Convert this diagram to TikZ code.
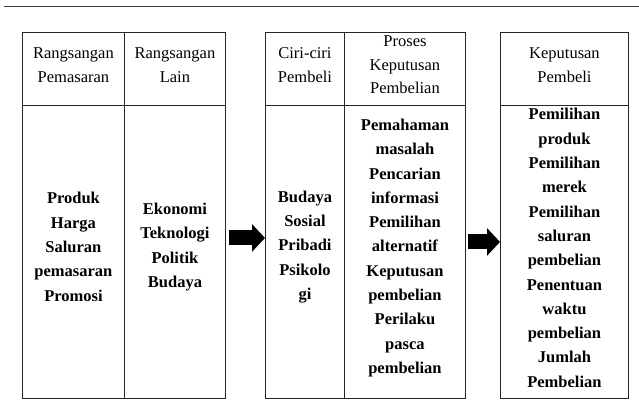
\documentclass[tikz,border=0pt]{standalone}
\usepackage{fontspec}
\setmainfont{Liberation Serif}
\usetikzlibrary{arrows.meta,calc}
\tikzset{
  cell/.style={draw=black!85, line width=0.9pt, anchor=north west, inner sep=0pt},
  headcell/.style={cell, minimum height=73pt},
  bodycell/.style={cell, minimum height=293pt},
  headtext/.style={align=center, inner sep=0pt, font=\fontsize{16.5}{23.5}\selectfont},
  bodytext/.style={align=center, inner sep=0pt, font=\fontsize{16.5}{24.3}\selectfont\bfseries},
  blockarrow/.style={line width=15pt, -{Triangle[length=13pt,width=27pt]}}
}
\begin{document}
\begin{tikzpicture}[x=1pt,y=1pt]
\useasboundingbox (0,0) rectangle (639,418);
\coordinate (tl) at (4,411);
\coordinate (tr) at (639,411);
\draw[black!75, line width=1pt] (tl) -- (tr);
% cells
\node[headcell, minimum width=102pt] (h1) at (22,386) {};
\node[headcell, minimum width=101pt] (h2) at (124,386) {};
\node[bodycell, minimum width=102pt] (b1) at (22,313) {};
\node[bodycell, minimum width=101pt] (b2) at (124,313) {};
\node[headcell, minimum width=79pt] (h3) at (265,386) {};
\node[headcell, minimum width=121pt] (h4) at (344,386) {};
\node[bodycell, minimum width=79pt] (b3) at (265,313) {};
\node[bodycell, minimum width=121pt] (b4) at (344,313) {};
\node[headcell, minimum width=128pt] (h5) at (500,386) {};
\node[bodycell, minimum width=128pt] (b5) at (500,313) {};
% texts
\node[headtext] (th1) at ($(h1.center)+(0,4)$) {Rangsangan\\Pemasaran};
\node[headtext] (th2) at ($(h2.center)+(0,4)$) {Rangsangan\\Lain};
\node[headtext] (th3) at ($(h3.center)+(0,4)$) {Ciri-ciri\\Pembeli};
\node[headtext] (th4) at ($(h4.center)+(0,4)$) {Proses\\Keputusan\\Pembelian};
\node[headtext] (th5) at ($(h5.center)+(0,4)$) {Keputusan\\Pembeli};
\node[bodytext] (tb1) at ($(b1.center)+(0,5)$) {Produk\\Harga\\Saluran\\pemasaran\\Promosi};
\node[bodytext] (tb2) at ($(b2.center)+(0,5)$) {Ekonomi\\Teknologi\\Politik\\Budaya};
\node[bodytext] (tb3) at ($(b3.center)+(0,5)$) {Budaya\\Sosial\\Pribadi\\Psikolo\\gi};
\node[bodytext] (tb4) at ($(b4.center)+(0,4)$) {Pemahaman\\masalah\\Pencarian\\informasi\\Pemilihan\\alternatif\\Keputusan\\pembelian\\Perilaku\\pasca\\pembelian};
\node[bodytext] (tb5) at ($(b5.center)+(0,4)$) {Pemilihan\\produk\\Pemilihan\\merek\\Pemilihan\\saluran\\pembelian\\Penentuan\\waktu\\pembelian\\Jumlah\\Pembelian};
% arrows
\path (b2.east) ++(3,14) coordinate (a1s);
\path (b4.east) ++(2,10) coordinate (a2s);
\draw[blockarrow] (a1s) -- (b3.west |- a1s);
\draw[blockarrow] (a2s) -- (b5.west |- a2s);
\end{tikzpicture}
\end{document}
